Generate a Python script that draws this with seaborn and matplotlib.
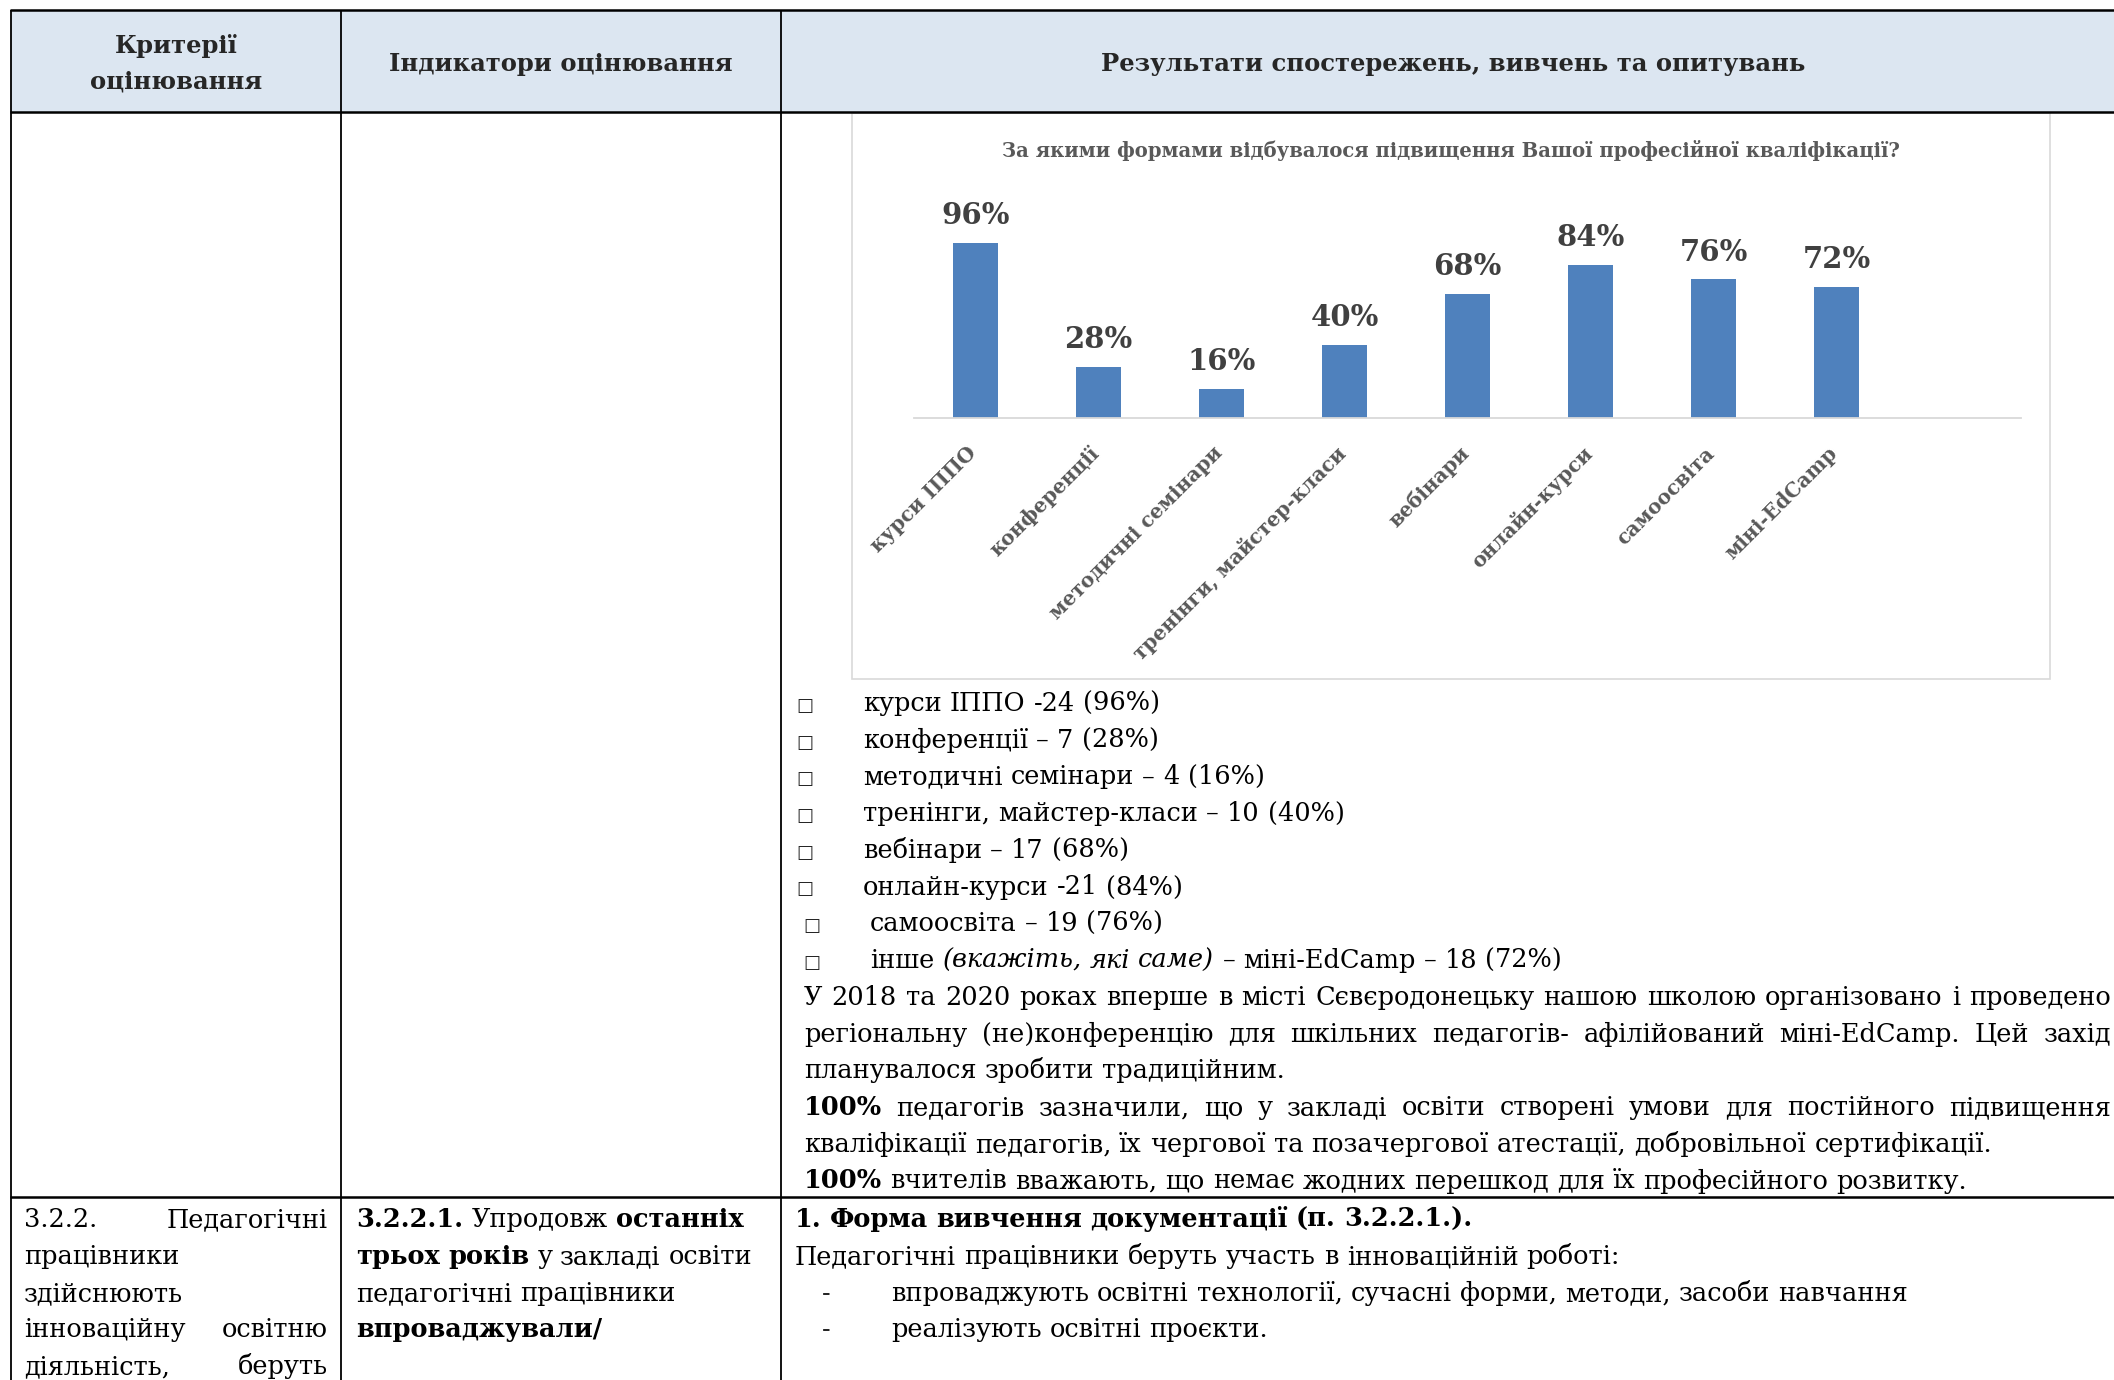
import numpy as np
import pandas as pd
import matplotlib
matplotlib.use("Agg")
import matplotlib.pyplot as plt
from matplotlib.patches import Rectangle
import matplotlib.transforms as mtransforms
import seaborn as sns

# ---------------- data ----------------
categories = ["курси ІППО", "конференції", "методичні семінари",
              "тренінги, майстер-класи", "вебінари", "онлайн-курси",
              "самоосвіта", "міні-EdCamp"]
percent = [96, 28, 16, 40, 68, 84, 76, 72]
counts = [24, 7, 4, 10, 17, 21, 19, 18]
chart_title = "За якими формами відбувалося підвищення Вашої професійної кваліфікації?"
header_col1 = ["Критерії", "оцінювання"]
header_col2 = "Індикатори оцінювання"
header_col3 = "Результати спостережень, вивчень та опитувань"

list_lines = [
    [("курси ІППО -24 (96%)", "n")],
    [("конференції – 7 (28%)", "n")],
    [("методичні семінари – 4 (16%)", "n")],
    [("тренінги, майстер-класи – 10 (40%)", "n")],
    [("вебінари – 17 (68%)", "n")],
    [("онлайн-курси -21 (84%)", "n")],
    [("самоосвіта – 19 (76%)", "n")],
    [("інше ", "n"), ("(вкажіть, які саме)", "i"), (" – міні-EdCamp – 18 (72%)", "n")],
]
paragraph_lines = [
    ([("У 2018 та 2020 роках вперше в місті Сєвєродонецьку нашою школою організовано і проведено", "n")], True),
    ([("регіональну (не)конференцію для шкільних педагогів- афілійований міні-EdCamp. Цей захід", "n")], True),
    ([("планувалося зробити традиційним.", "n")], False),
    ([("100%", "b"), (" педагогів зазначили, що у закладі освіти створені умови для постійного підвищення", "n")], True),
    ([("кваліфікації педагогів, їх чергової та позачергової атестації, добровільної сертифікації.", "n")], False),
    ([("100%", "b"), (" вчителів вважають, що немає жодних перешкод для їх професійного розвитку.", "n")], False),
]
row3_col1 = [
    ([("3.2.2. Педагогічні", "n")], True),
    ([("працівники", "n")], False),
    ([("здійснюють", "n")], False),
    ([("інноваційну освітню", "n")], True),
    ([("діяльність, беруть", "n")], True),
]
row3_col2 = [
    [("3.2.2.1.", "b"), (" Упродовж ", "n"), ("останніх", "b")],
    [("трьох років", "b"), (" у закладі освіти", "n")],
    [("педагогічні працівники", "n")],
    [("впроваджували/", "b")],
]
row3_col3 = [
    [("1. Форма вивчення документації (п. 3.2.2.1.).", "b")],
    [("Педагогічні працівники беруть участь в інноваційній роботі:", "n")],
]
row3_bullets = [
    "впроваджують освітні технології, сучасні форми, методи, засоби навчання",
    "реалізують освітні проєкти.",
]

# ---------------- figure ----------------
W, H = 2114, 1380
sns.set_style("white")
plt.rcParams["font.family"] = ["DejaVu Serif", "DejaVu Sans"]
fig = plt.figure(figsize=(W / 100, H / 100), dpi=100)
bg = fig.add_axes([0, 0, 1, 1])
bg.set_xlim(0, W)
bg.set_ylim(H, 0)
bg.axis("off")
renderer = fig.canvas.get_renderer()

SERIF = "DejaVu Serif"


def kw(st):
    return dict(family=SERIF,
                fontweight="bold" if "b" in st else "normal",
                fontstyle="italic" if "i" in st else "normal")


def text_width(s, size, st="n"):
    t = bg.text(0, 0, s, fontsize=size, **kw(st))
    w = t.get_window_extent(renderer).width
    t.remove()
    return w


def fit_size(sample, target, st="n", ref=20.0):
    return ref * target / text_width(sample, ref, st)


def draw_line(segments, x0, y, size, x1=None, color="black"):
    words = []
    for txt, st in segments:
        for w in txt.split():
            words.append((w, st))
    arts, widths = [], []
    for w, st in words:
        t = bg.text(0, y, w, fontsize=size, va="baseline", ha="left",
                    color=color, **kw(st))
        arts.append(t)
        widths.append(t.get_window_extent(renderer).width)
    space = text_width("a a", size) - text_width("aa", size)
    if x1 is not None and len(arts) > 1:
        gap = (x1 - x0 - sum(widths)) / (len(arts) - 1)
    else:
        gap = space
    x = x0
    for t, w in zip(arts, widths):
        t.set_x(x)
        x += w + gap


# font sizes calibrated against widths in the reference
body = fit_size("кваліфікації педагогів, їх чергової та позачергової атестації, добровільної сертифікації.", 1188)
head = fit_size(header_col3, 704, "b")

# ---------------- table ----------------
bg.add_patch(Rectangle((11, 10), W - 11, 102, facecolor="#DCE6F1", edgecolor="none", zorder=0))
thick, thin = 1.8, 1.3
for yy in (10, 112, 1197):
    bg.plot([10, W], [yy, yy], color="black", lw=thick, solid_capstyle="butt", zorder=3)
for xx in (11, 341, 781):
    bg.plot([xx, xx], [10, H], color="black", lw=thin, solid_capstyle="butt", zorder=3)

bg.text(176, 53, header_col1[0], ha="center", va="baseline", fontsize=head, **kw("b"))
bg.text(176, 88, header_col1[1], ha="center", va="baseline", fontsize=head, **kw("b"))
bg.text(561, 71, header_col2, ha="center", va="baseline", fontsize=head, **kw("b"))
bg.text(1453, 71, header_col3, ha="center", va="baseline", fontsize=head, **kw("b"))

# chart frame
bg.add_patch(Rectangle((852, 113), 1198, 566, facecolor="white", edgecolor="#D9D9D9", lw=1.2, zorder=1))
title_size = fit_size(chart_title, 900, "b")
bg.text(1451, 157, chart_title, ha="center", va="baseline", fontsize=title_size,
        color="#595959", zorder=2, **kw("b"))

# ---------------- chart ----------------
ax = fig.add_axes([914 / W, 1 - 418 / H, (2021 - 914) / W, (418 - 199) / H])
ax.set_facecolor("none")
df = pd.DataFrame({"form": categories, "pct": percent})
sns.barplot(data=df, x="form", y="pct", color="#4F81BD", saturation=1,
            width=0.36, linewidth=0, ax=ax)
ax.set_xlim(-0.5, len(categories) + 0.5)
ax.set_ylim(0, 120)
for s in ("top", "right", "left"):
    ax.spines[s].set_visible(False)
ax.spines["bottom"].set_color("#D9D9D9")
ax.spines["bottom"].set_linewidth(1.3)
ax.set_yticks([])
ax.set_xlabel("")
ax.set_ylabel("")

val_size = fit_size("96%", 68, "b")
ax.bar_label(ax.containers[0], labels=[f"{v}%" for v in percent], padding=9,
             fontsize=val_size, color="#404040", **kw("b"))

tick_size = fit_size("тренінги, майстер-класи", 292, "b")
ax.set_xticks(range(len(categories)))
ax.set_xticklabels(categories, rotation=45, ha="right", va="top",
                   rotation_mode="anchor", fontsize=tick_size, color="#595959", **kw("b"))
ax.tick_params(axis="x", which="major", length=0, pad=18)
shift = mtransforms.ScaledTranslation(-9 / 100, 0, fig.dpi_scale_trans)
for lab in ax.get_xticklabels():
    lab.set_transform(lab.get_transform() + shift)
ax.set_xticks(np.arange(-0.5, len(categories) + 1, 1), minor=True)
ax.tick_params(axis="x", which="minor", length=6, width=1.3, color="#D9D9D9", direction="out")

# ---------------- list under chart ----------------
list_y0, step = 711, 36.7
for i, segs in enumerate(list_lines):
    y = list_y0 + i * step
    bx, tx = (805, 863) if i < 6 else (812, 870)
    bg.text(bx, y, "□", ha="center", va="baseline", fontsize=13, family="DejaVu Sans")
    draw_line(segs, tx, y, body)

para_y0 = 1005
for i, (segs, just) in enumerate(paragraph_lines):
    draw_line(segs, 804, para_y0 + i * step, body, x1=2111 if just else None)

# ---------------- third row ----------------
row_y = [1227, 1264, 1301, 1337, 1374]
for i, (segs, just) in enumerate(row3_col1):
    draw_line(segs, 24, row_y[i], body, x1=328 if just else None)
for i, segs in enumerate(row3_col2):
    draw_line(segs, 356, row_y[i], body)
for i, segs in enumerate(row3_col3):
    draw_line(segs, 795, row_y[i], body)
for j, txt in enumerate(row3_bullets):
    y = row_y[2 + j]
    bg.text(826, y, "-", ha="center", va="baseline", fontsize=body, family=SERIF)
    draw_line([(txt, "n")], 891, y, body)

fig.savefig("out.png", dpi=100)
